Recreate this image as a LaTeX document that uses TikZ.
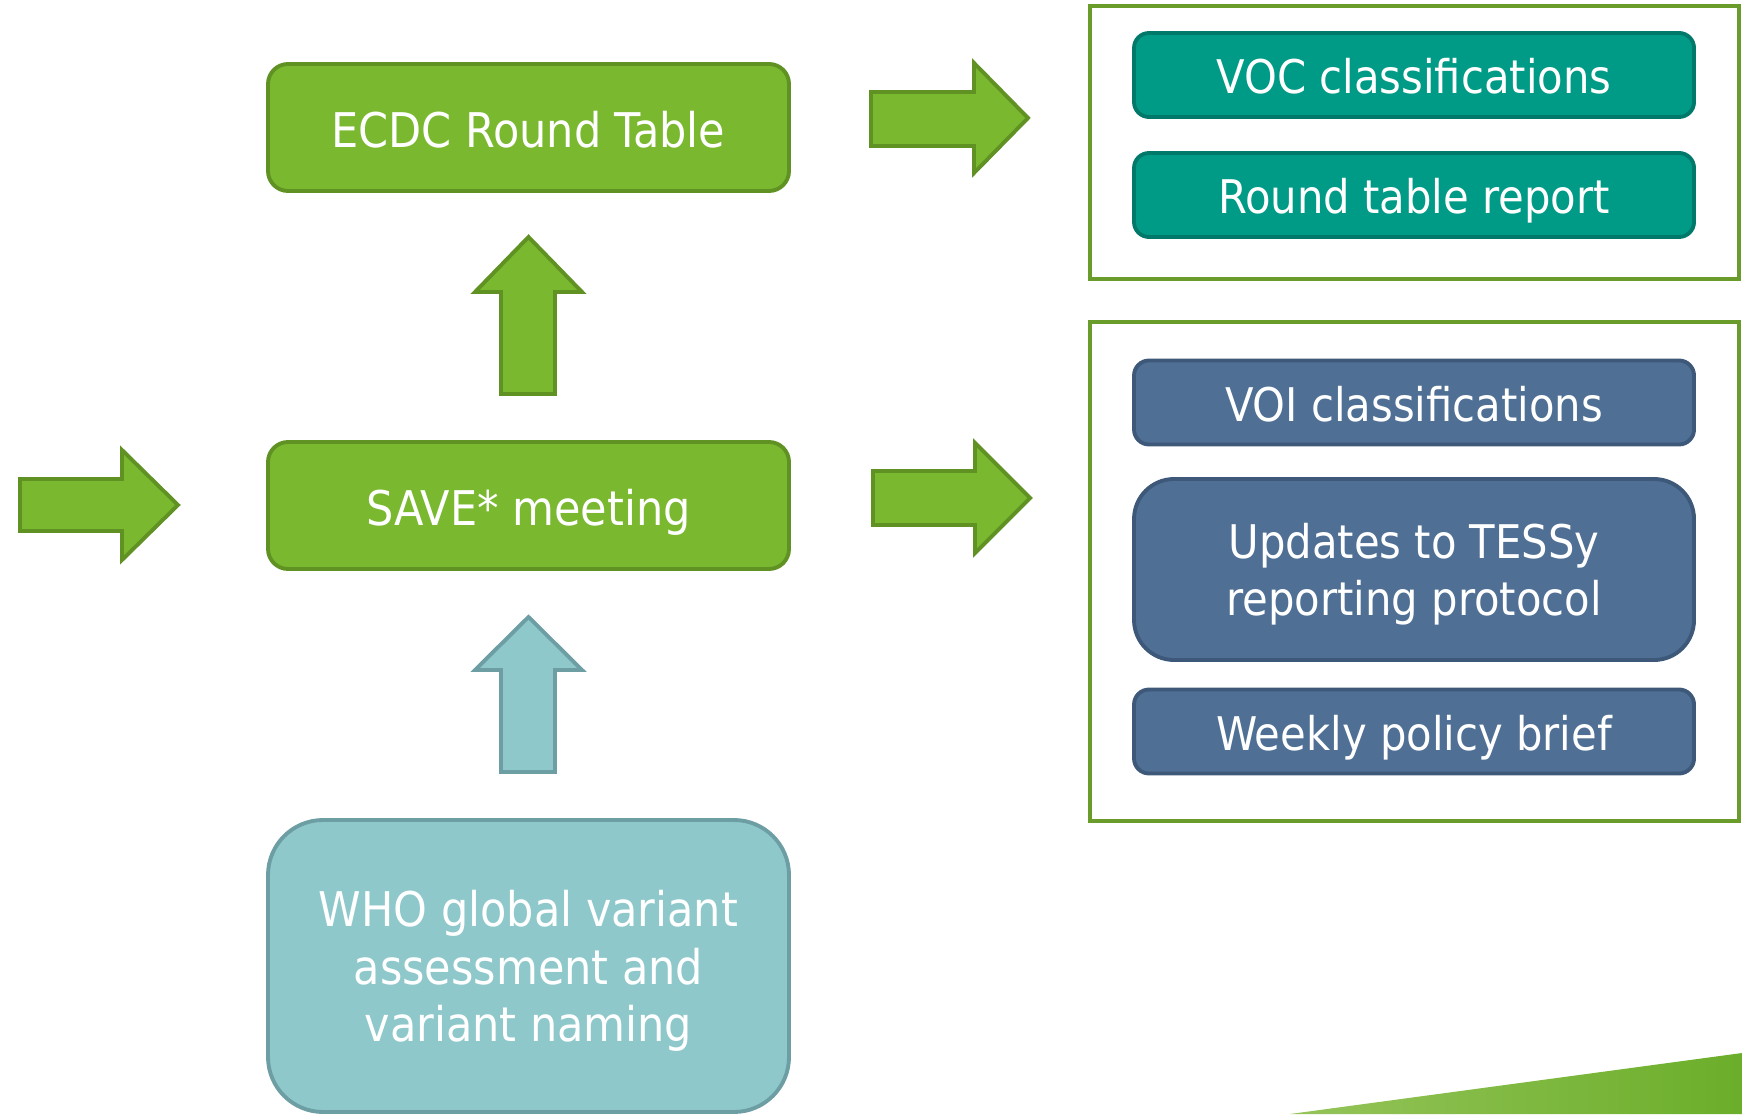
\documentclass[tikz,border=0pt]{standalone}
\usepackage{fontspec}
\setmainfont{DejaVu Sans Condensed}
\definecolor{leaf}{HTML}{7AB92F}
\definecolor{leafdark}{HTML}{5F9123}
\definecolor{sea}{HTML}{009B86}
\definecolor{seadark}{HTML}{00796A}
\definecolor{slate}{HTML}{4F6F95}
\definecolor{slatedark}{HTML}{3D5878}
\definecolor{mist}{HTML}{8EC8CB}
\definecolor{mistdark}{HTML}{6C9EA4}
\definecolor{framegreen}{HTML}{6A9C2C}
\definecolor{swooshlight}{HTML}{95C45A}
\definecolor{swooshdark}{HTML}{6BAE2A}
\begin{document}
\begin{tikzpicture}[
  stage/.style={draw=leafdark, fill=leaf, rounded corners=0.2cm, line width=1.1pt,
    minimum width=5.21cm, minimum height=1.27cm, text=white, align=center,
    text height=0.40cm, text depth=0cm, font=\fontsize{13.6}{16.3}\selectfont},
  outbox/.style={rounded corners=0.15cm, line width=1.1pt, minimum width=5.6cm,
    minimum height=0.84cm, text=white, align=center, text height=0.38cm, text depth=0cm,
    font=\fontsize{13.2}{16.3}\selectfont},
  blockarrow/.style={draw=leafdark, fill=leaf, line width=1.1pt}
]

\useasboundingbox (0,0) rectangle (17.42,11.14);

\shade[left color=swooshlight, right color=swooshdark] (12.90,0) -- (17.42,0.61) -- (17.42,0) -- cycle;

\node[stage] (ecdc) at (5.285, 9.865) {ECDC Round Table};
\node[stage] (save) at (5.285, 6.085) {SAVE* meeting};
\node[stage, draw=mistdark, fill=mist, rounded corners=0.55cm, minimum height=2.92cm, text height=] (who) at (5.285, 1.48) {WHO global variant\\assessment and\\variant naming};

\draw[blockarrow] (0.20, 5.83) -- (1.22, 5.83) -- (1.22, 5.54) -- (1.78, 6.09) -- (1.22, 6.64) -- (1.22, 6.35) -- (0.20, 6.35) -- cycle;
\draw[blockarrow] (5.01, 7.20) -- (5.55, 7.20) -- (5.55, 8.22) -- (5.82, 8.22) -- (5.285, 8.77) -- (4.75, 8.22) -- (5.01, 8.22) -- cycle;
\draw[blockarrow, draw=mistdark, fill=mist] (5.01, 3.42) -- (5.55, 3.42) -- (5.55, 4.44) -- (5.82, 4.44) -- (5.285, 4.97) -- (4.75, 4.44) -- (5.01, 4.44) -- cycle;
\draw[blockarrow] (8.71, 9.68) -- (9.74, 9.68) -- (9.74, 9.41) -- (10.28, 9.96) -- (9.74, 10.51) -- (9.74, 10.22) -- (8.71, 10.22) -- cycle;
\draw[blockarrow] (8.73, 5.89) -- (9.75, 5.89) -- (9.75, 5.61) -- (10.30, 6.16) -- (9.75, 6.71) -- (9.75, 6.43) -- (8.73, 6.43) -- cycle;

\draw[framegreen, line width=1.1pt] (10.90, 8.35) rectangle (17.39, 11.08);
\draw[framegreen, line width=1.1pt] (10.90, 2.93) rectangle (17.39, 7.92);

\node[outbox, draw=seadark, fill=sea] (voc) at (14.14, 10.39) {VOC classifications};
\node[outbox, draw=seadark, fill=sea] (report) at (14.14, 9.19) {Round table report};
\node[outbox, draw=slatedark, fill=slate] (voi) at (14.14, 7.115) {VOI classifications};
\node[outbox, draw=slatedark, fill=slate, rounded corners=0.4cm, minimum height=1.81cm, text height=] (tessy) at (14.14, 5.445) {Updates to TESSy\\reporting protocol};
\node[outbox, draw=slatedark, fill=slate] (brief) at (14.14, 3.825) {Weekly policy brief};

\end{tikzpicture}
\end{document}
